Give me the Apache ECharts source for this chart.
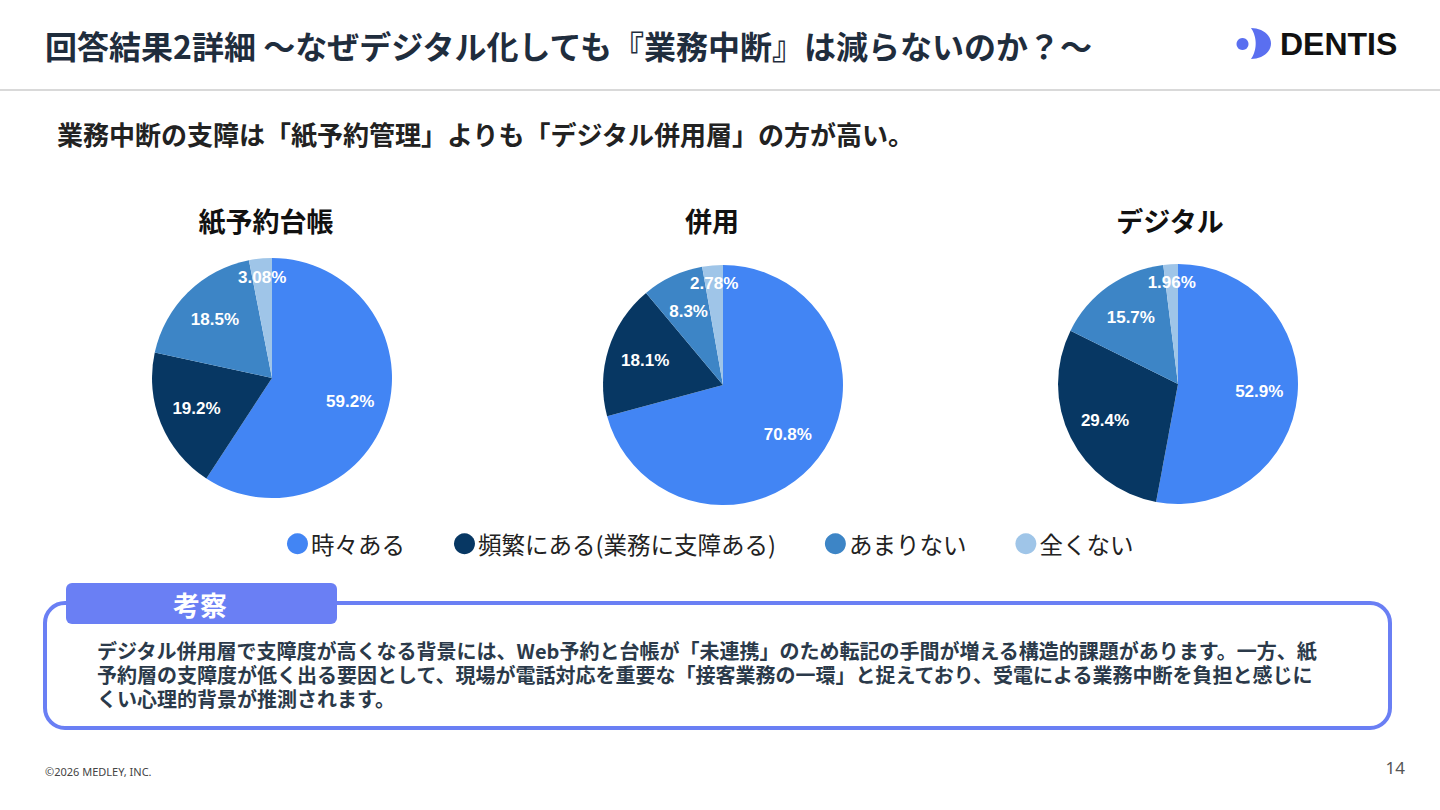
<!DOCTYPE html>
<html>
<head>
<meta charset="utf-8">
<script src="https://cdn.jsdelivr.net/npm/echarts@6/dist/echarts.min.js"></script>
<style>
html,body{margin:0;padding:0;background:#fff;}
#chart{width:1440px;height:810px;}
</style>
</head>
<body>
<div id="chart"></div>
<script>
// ---- data ----
const categories = ['時々ある', '頻繁にある(業務に支障ある)', 'あまりない', '全くない'];
const groupNames = ['紙予約台帳', '併用', 'デジタル'];
const paperValues = [59.2, 19.2, 18.5, 3.08];
const mixedValues = [70.8, 18.1, 8.3, 2.78];
const digitalValues = [52.9, 29.4, 15.7, 1.96];
const sliceColors = ['#4285f4', '#073763', '#3d85c6', '#9fc5e8'];

const headerTitle = '回答結果2詳細 ～なぜデジタル化しても『業務中断』は減らないのか？～';
const subTitle = '業務中断の支障は「紙予約管理」よりも「デジタル併用層」の方が高い。';
const noteTitle = '考察';
const noteLines = [
  'デジタル併用層で支障度が高くなる背景には、Web予約と台帳が「未連携」のため転記の手間が増える構造的課題があります。一方、紙',
  '予約層の支障度が低く出る要因として、現場が電話対応を重要な「接客業務の一環」と捉えており、受電による業務中断を負担と感じに',
  'くい心理的背景が推測されます。'
];
const footerText = '©2026 MEDLEY, INC.';
const pageNumber = '14';

// ---- layout ----
const JP = '"Noto Sans CJK JP", "Noto Sans", sans-serif';
const pieCenters = [[272, 378], [723, 385], [1178, 384]];
const pieTitleX = [266, 712, 1170];
const R = 120;
const allValues = [paperValues, mixedValues, digitalValues];

const series = [];
allValues.forEach((vals, g) => {
  series.push({
    type: 'pie', name: groupNames[g], center: pieCenters[g], radius: R,
    startAngle: 90, clockwise: true, silent: true, animation: false,
    label: {show: false}, labelLine: {show: false},
    emphasis: {disabled: true},
    data: categories.map((n, i) => ({name: n, value: vals[i], itemStyle: {color: sliceColors[i]}}))
  });
});
const labelStyle = {
  position: 'inside', formatter: '{c}%', color: '#ffffff',
  fontFamily: '"Liberation Sans", Arial, sans-serif', fontWeight: 'bold', fontSize: 17
};
allValues.forEach((vals, g) => {
  series.push({
    type: 'pie', center: pieCenters[g], radius: [R * 0.31, R],
    startAngle: 90, clockwise: true, silent: true, animation: false,
    legendHoverLink: false, avoidLabelOverlap: false,
    itemStyle: {color: 'rgba(0,0,0,0)'}, emphasis: {disabled: true},
    label: labelStyle, labelLine: {show: false},
    data: categories.map((n, i) => ({name: n, value: vals[i], label: {show: vals[i] >= 5}}))
  });
  series.push({
    type: 'pie', center: pieCenters[g], radius: [R * 0.64, R],
    startAngle: 90, clockwise: true, silent: true, animation: false,
    legendHoverLink: false, avoidLabelOverlap: false,
    itemStyle: {color: 'rgba(0,0,0,0)'}, emphasis: {disabled: true},
    label: labelStyle, labelLine: {show: false},
    data: categories.map((n, i) => ({name: n, value: vals[i], label: {show: vals[i] < 5}}))
  });
});

// logo crescent outline (decorative shape)
const crescent = [];
for (let k = 0; k <= 24; k++) {
  const a = -Math.PI / 2 + Math.PI * k / 24;
  crescent.push([1251 + 20 * Math.cos(a), 43.5 + 15.5 * Math.sin(a)]);
}
const innerR = 28, innerCx = 1251 - Math.sqrt(innerR * innerR - 15.5 * 15.5);
for (let k = 0; k <= 24; k++) {
  const lim = Math.asin(15.5 / innerR);
  const a = lim - 2 * lim * k / 24;
  crescent.push([innerCx + innerR * Math.cos(a), 43.5 + innerR * Math.sin(a)]);
}

const graphics = [
  {type: 'text', x: 45, y: 45, style: {text: headerTitle, font: 'bold 32px ' + JP, fill: '#1f2d3d', verticalAlign: 'middle'}},
  {type: 'line', shape: {x1: 0, y1: 90, x2: 1440, y2: 90}, style: {stroke: '#d9d9d9', lineWidth: 2}},
  {type: 'text', x: 57, y: 133, style: {text: subTitle, font: 'bold 26px ' + JP, fill: '#222222', verticalAlign: 'middle'}},
  {type: 'circle', shape: {cx: 1242.5, cy: 44, r: 6}, style: {fill: '#5a6ff0'}},
  {type: 'polygon', shape: {points: crescent}, style: {fill: '#5a6ff0'}},
  {type: 'text', x: 1280, y: 44, style: {text: 'DENTIS', font: 'bold 32px "Liberation Sans", Arial, sans-serif', fill: '#111111', verticalAlign: 'middle'}},
  {type: 'rect', shape: {x: 45, y: 603, width: 1345, height: 125, r: 20}, style: {fill: 'none', stroke: '#6a7ff4', lineWidth: 4}},
  {type: 'rect', shape: {x: 66, y: 583, width: 271, height: 41, r: 6}, style: {fill: '#6a7ff4'}},
  {type: 'text', x: 200, y: 604, style: {text: noteTitle, font: 'bold 27px ' + JP, fill: '#ffffff', align: 'center', verticalAlign: 'middle'}},
  {type: 'text', x: 45, y: 771, style: {text: footerText, font: '11px "Noto Sans", sans-serif', fill: '#444444', verticalAlign: 'middle'}},
  {type: 'text', x: 1405, y: 767, style: {text: pageNumber, font: '17px "Noto Sans", sans-serif', fill: '#555555', align: 'right', verticalAlign: 'middle'}}
];
noteLines.forEach((line, i) => {
  graphics.push({type: 'text', x: 97, y: 650 + 24 * i, style: {text: line, font: 'bold 20px ' + JP, fill: '#2b3a4a', verticalAlign: 'middle'}});
});
groupNames.forEach((t, g) => {
  graphics.push({type: 'text', x: pieTitleX[g], y: 220, style: {text: t, font: 'bold 27px ' + JP, fill: '#111111', align: 'center', verticalAlign: 'middle'}});
});

const chart = echarts.init(document.getElementById('chart'), null, {renderer: 'svg'});
chart.setOption({
  backgroundColor: '#ffffff',
  animation: false,
  legend: {
    left: 282, top: 527, orient: 'horizontal', icon: 'circle',
    itemWidth: 21, itemHeight: 21, itemGap: 49, selectedMode: false,
    textStyle: {fontFamily: JP, fontSize: 23.5, color: '#222222', padding: [0, 0, 0, -2]},
    data: categories.map((n, i) => ({name: n, itemStyle: {color: sliceColors[i]}}))
  },
  graphic: graphics,
  series: series
});
</script>
</body>
</html>
